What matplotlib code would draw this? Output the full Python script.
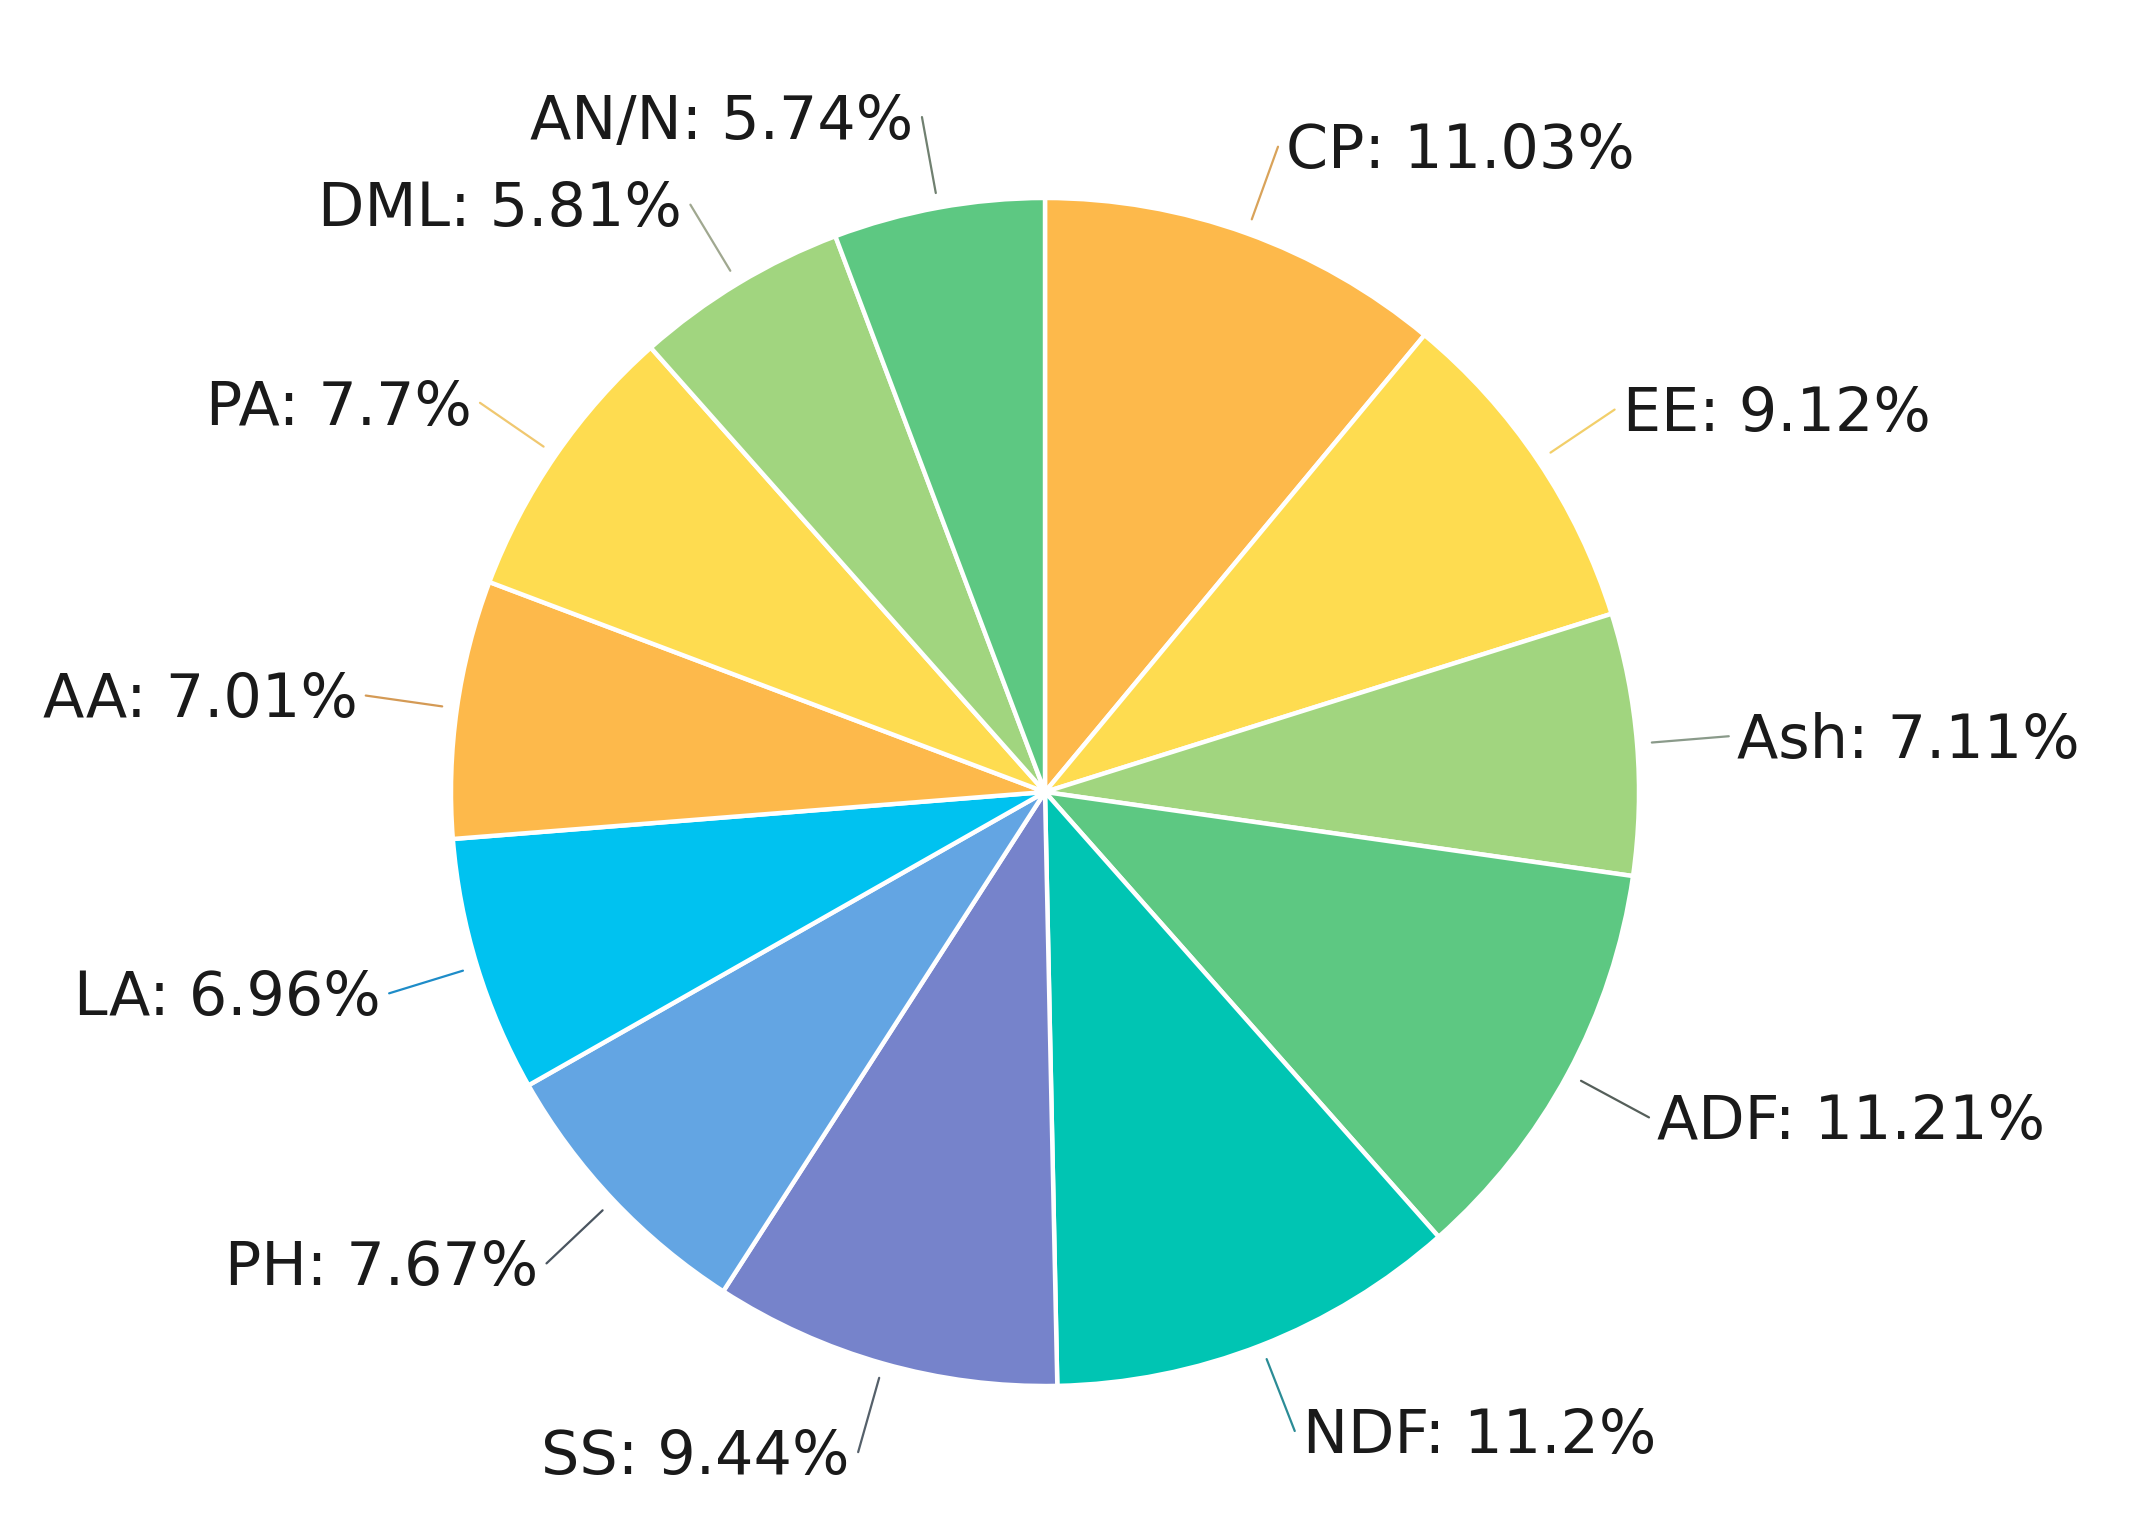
import numpy as np
import matplotlib
matplotlib.use("Agg")
import matplotlib.pyplot as plt

labels = ["CP", "EE", "Ash", "ADF", "NDF", "SS", "PH", "LA", "AA", "PA", "DML", "AN/N"]
label_values = ["11.03", "9.12", "7.11", "11.21", "11.2", "9.44", "7.67", "6.96", "7.01", "7.7", "5.81", "5.74"]
values = [11.03, 9.12, 7.11, 11.21, 11.2, 9.44, 7.67, 6.96, 7.01, 7.7, 5.81, 5.74]
colors = ["#FDB94B", "#FEDC50", "#A1D57F", "#5DC882", "#00C5B3", "#7683CB",
          "#63A5E3", "#00C2F0", "#FDB94B", "#FEDC50", "#A1D57F", "#5DC882"]
line_colors = ["#D9A35A", "#F2CF6A", "#8A9A8A", "#555F5A", "#2B8C96", "#55606A",
               "#4A5560", "#1E8CC8", "#D49A55", "#F0C870", "#A0A890", "#708070"]

W, H = 2135, 1520
fig = plt.figure(figsize=(W / 100, H / 100), dpi=100)
fig.patch.set_facecolor("white")

cx, cy, r = 1045, 792, 594
ax = fig.add_axes([(cx - r) / W, (H - cy - r) / H, 2 * r / W, 2 * r / H])
ax.axis("off")

wedges, _ = ax.pie(values, colors=colors, startangle=90, counterclock=False,
                   radius=1.0, center=(0, 0), frame=False,
                   wedgeprops=dict(edgecolor="white", linewidth=3.2))
ax.set_xlim(-1, 1)
ax.set_ylim(-1, 1)
ax.set_aspect("auto")

fs = 43.5
for w, lab, val, lc in zip(wedges, labels, label_values, line_colors):
    ang = np.deg2rad((w.theta1 + w.theta2) / 2)
    x0, y0 = 1.025 * np.cos(ang), 1.025 * np.sin(ang)
    x1, y1 = 1.155 * np.cos(ang), 1.155 * np.sin(ang)
    ax.plot([x0, x1], [y0, y1], color=lc, lw=1.6, clip_on=False, solid_capstyle="round")
    right = np.cos(ang) >= 0
    ax.annotate(f"{lab}: {val}%", xy=(x1, y1), xycoords="data",
                xytext=(6 if right else -6, -0.36 * fs), textcoords="offset points",
                ha="left" if right else "right", va="baseline",
                fontsize=fs, color="#1a1a1a", family="DejaVu Sans",
                annotation_clip=False)

fig.savefig("out.png", dpi=100, facecolor="white")
